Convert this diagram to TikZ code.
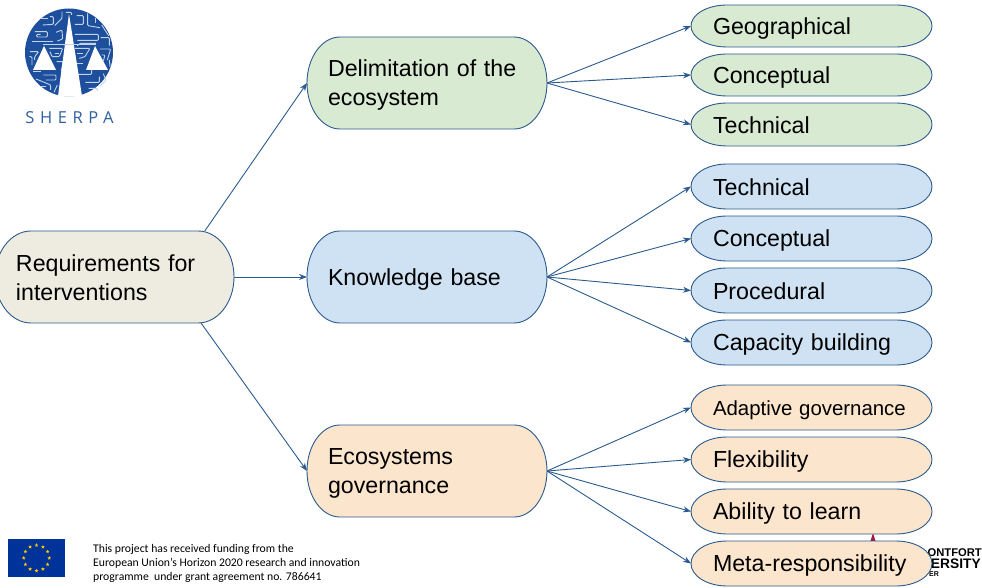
\documentclass[tikz,border=0pt]{standalone}
\usepackage{fontspec}
\setmainfont{Liberation Sans}
\newfontfamily\carl{Carlito}
\newfontfamily\sherpafont[LetterSpace=34]{Open Sans}
\usetikzlibrary{arrows.meta,shapes.geometric,calc}
\definecolor{edgeblue}{HTML}{2B5A8C}
\definecolor{gfill}{HTML}{D9EAD3}
\definecolor{bfill}{HTML}{CFE2F3}
\definecolor{ofill}{HTML}{FCE5CD}
\definecolor{rfill}{HTML}{EEECE1}
\definecolor{logoblue}{HTML}{1D4F9C}
\definecolor{logoline}{HTML}{C2D4EC}
\definecolor{sherpatext}{HTML}{2F5F9E}
\definecolor{euflag}{HTML}{003399}
\definecolor{eustar}{HTML}{FFCC00}
\definecolor{dmured}{HTML}{A01C3C}
\def\pillrx{30pt}
\makeatletter
\pgfdeclareshape{pill}{
 \inheritsavedanchors[from=rectangle]
 \inheritanchorborder[from=rectangle]
 \inheritanchor[from=rectangle]{center}
 \inheritanchor[from=rectangle]{north}
 \inheritanchor[from=rectangle]{south}
 \inheritanchor[from=rectangle]{east}
 \inheritanchor[from=rectangle]{west}
 \inheritanchor[from=rectangle]{text}
 \inheritanchor[from=rectangle]{base}
 \backgroundpath{
  \southwest \pgf@xa=\pgf@x \pgf@ya=\pgf@y
  \northeast \pgf@xb=\pgf@x \pgf@yb=\pgf@y
  \pgf@xc=\pgf@xa \advance\pgf@xc by \pillrx \edef\pxl{\the\pgf@xc}
  \pgf@xc=\pgf@xb \advance\pgf@xc by -\pillrx \edef\pxr{\the\pgf@xc}
  \edef\pyt{\the\pgf@yb}\edef\pyb{\the\pgf@ya}
  \pgf@yc=\pgf@yb \advance\pgf@yc by -\pgf@ya \divide\pgf@yc by 2 \edef\pry{\the\pgf@yc}
  \pgfpathmoveto{\pgfqpoint{\pxl}{\pyt}}
  \pgfpathlineto{\pgfqpoint{\pxr}{\pyt}}
  \pgfpatharc{90}{-90}{\pillrx and \pry}
  \pgfpathlineto{\pgfqpoint{\pxl}{\pyb}}
  \pgfpatharc{-90}{-270}{\pillrx and \pry}
  \pgfpathclose
 }
}
\makeatother
\newcommand{\lblstrut}{\rule[-3pt]{0pt}{24pt}}
\tikzset{
 pill rx/.code={\def\pillrx{#1}},
 boxbase/.style={draw=edgeblue,line width=.9pt,shape=pill,outer sep=0pt,inner ysep=0pt,align=left,anchor=west,font=\fontsize{23.2}{29.5}\selectfont,execute at begin node=\lblstrut,execute at end node=\lblstrut},
 big/.style={boxbase,pill rx=33pt,minimum height=92pt,text width=198pt,inner xsep=21pt},
 small/.style={boxbase,pill rx=36pt,minimum height=#1,text width=197pt,inner xsep=22pt},
 small/.default=45pt,
 link/.style={draw=edgeblue,line width=.9pt,-{Stealth[length=8pt,width=6pt]}},
 circ/.style={draw=logoline,line width=.9pt,rounded corners=1pt},
}
\begin{document}
\begin{tikzpicture}[x=1pt,y=-1pt]
\useasboundingbox (0,0) rectangle (982,588);
% SHERPA logo
\fill[logoblue] (69,52.5) circle (44);
\begin{scope}[shift={(20,5)},x=.3333pt,y=-.3333pt]
\draw[circ] (90,35) -- (100,35) -- (100,58) -- (68,60);
\draw[circ] (45,80) -- (82,80) -- (82,96) -- (50,96) -- (50,88) -- (62,88);
\draw[circ] (104,62) -- (126,40) -- (126,20);
\draw[circ] (60,40) -- (85,40);
\draw[circ] (108,82) -- (126,75) -- (128,102) -- (112,108);
\draw[circ] (36,108) -- (100,108);
\draw[circ] (138,22) -- (155,22) -- (155,30);
\draw[circ] (170,32) -- (190,32) -- (190,58) -- (165,58);
\draw[circ] (203,25) -- (203,62) -- (240,68);
\draw[circ] (165,88) -- (235,88) -- (235,106) -- (172,106);
\draw[circ] (225,38) -- (225,55);
\draw[circ] (245,60) -- (266,92);
\draw[circ] (242,98) -- (268,98) -- (268,122);
\draw[circ] (172,122) -- (180,115) -- (228,115);
% middle band
\draw[circ] (30,140) -- (56,140) -- (44,155) -- (44,165);
\draw[circ] (28,155) -- (36,155) -- (36,180);
\draw[circ] (88,130) -- (128,130) -- (118,155) -- (96,155) -- (90,140);
\draw[circ] (104,145) -- (116,145);
\draw[circ] (110,170) -- (130,170) -- (124,198);
\draw[circ] (165,130) -- (210,130) -- (195,155) -- (178,160);
\draw[circ] (172,145) -- (190,145);
\draw[circ] (168,175) -- (190,175);
\draw[circ] (240,132) -- (272,132) -- (262,165);
\draw[circ] (245,150) -- (255,150) -- (250,168);
\draw[circ] (268,165) -- (270,185);
% lower band
\draw[circ] (70,210) -- (108,210) -- (108,225) -- (78,225);
\draw[circ] (48,222) -- (92,240) -- (92,255);
\draw[circ] (78,245) -- (60,245);
\draw[circ] (112,240) -- (102,262);
\draw[circ] (40,200) -- (62,200);
\draw[circ] (172,208) -- (215,208) -- (215,190);
\draw[circ] (196,232) -- (238,232) -- (238,215);
\draw[circ] (206,250) -- (232,250) -- (232,258);
\draw[circ] (250,206) -- (258,226) -- (240,244);
\end{scope}
\fill[white] (69,14) -- (58,96) .. controls (66,97) and (74,97) .. (82,96) -- cycle;
\fill[white] (44,46) -- (33,70) -- (56,70) -- cycle;
\fill[white] (95,46) -- (86,70) -- (108,70) -- cycle;
\draw[logoline,line width=.6pt] (43,44.5) -- (96,44.5);
\node[font=\sherpafont\fontsize{16.5}{18}\selectfont,text=sherpatext,inner sep=0pt,anchor=center] (sherpa) at (69.5,118) {SHERPA};
% EU flag
\fill[euflag] (8,539) rectangle (65,577);
\foreach \a in {0,30,...,330}
  \node[star,star points=5,star point ratio=2.4,fill=eustar,inner sep=0pt,minimum size=4pt] at ($(36.5,558)+(\a:12.8)$) {};
\node[font=\carl\fontsize{11.7}{14}\selectfont,inner sep=0pt,anchor=north west,align=left] (fund) at (93,544) {This project has received funding from the\\European Union’s Horizon 2020 research and innovation\\programme\ \ under grant agreement no. 786641};
% DMU logo
\fill[dmured] (873,533) -- (870.5,541) -- (875.5,541) -- cycle;
\node[font=\bfseries\fontsize{11.2}{11}\selectfont,inner sep=0pt,anchor=east] (d1) at (982,553) {ONTFORT};
\node[font=\bfseries\fontsize{13.8}{14}\selectfont,inner sep=0pt,anchor=east] (d2) at (981,564) {ERSITY};
\node[font=\bfseries\fontsize{7}{8}\selectfont,inner sep=0pt,anchor=west] (d3) at (929,574.5) {ER};
% boxes
\node[big,pill rx=36pt,fill=rfill,text width=197pt] (root) at (-5,277) {Requirements for\\interventions};
\node[big,fill=gfill] (m1) at (307,83) {Delimitation of the\\ecosystem};
\node[big,fill=bfill] (m2) at (307,277) {Knowledge base};
\node[big,fill=ofill] (m3) at (307,471) {Ecosystems\\governance};
\node[small=42pt,fill=gfill] (g1) at (691,26) {Geographical};
\node[small=42pt,fill=gfill] (g2) at (691,75) {Conceptual};
\node[small=43pt,fill=gfill] (g3) at (691,124.5) {Technical};
\node[small,fill=bfill] (b1) at (691,186.5) {Technical};
\node[small,fill=bfill] (b2) at (691,238.5) {Conceptual};
\node[small,fill=bfill] (b3) at (691,290.5) {Procedural};
\node[small,fill=bfill] (b4) at (691,342.5) {Capacity building};
\node[small,fill=ofill,font=\fontsize{20.4}{25}\selectfont] (o1) at (691,407.5) {Adaptive governance};
\node[small,fill=ofill] (o2) at (691,459.5) {Flexibility};
\node[small,fill=ofill] (o3) at (691,511.5) {Ability to learn};
\node[small,fill=ofill] (o4) at (691,563.5) {Meta-responsibility};
% connectors
\draw[link] (root.27.6) -- (m1.west);
\draw[link] (root.east) -- (m2.west);
\draw[link] (root.-28.6) -- (m3.west);
\foreach \t in {g1,g2,g3} \draw[link] (m1.east) -- (\t.west);
\foreach \t in {b1,b2,b3,b4} \draw[link] (m2.east) -- (\t.west);
\foreach \t in {o1,o2,o3,o4} \draw[link] (m3.east) -- (\t.west);
\end{tikzpicture}
\end{document}
